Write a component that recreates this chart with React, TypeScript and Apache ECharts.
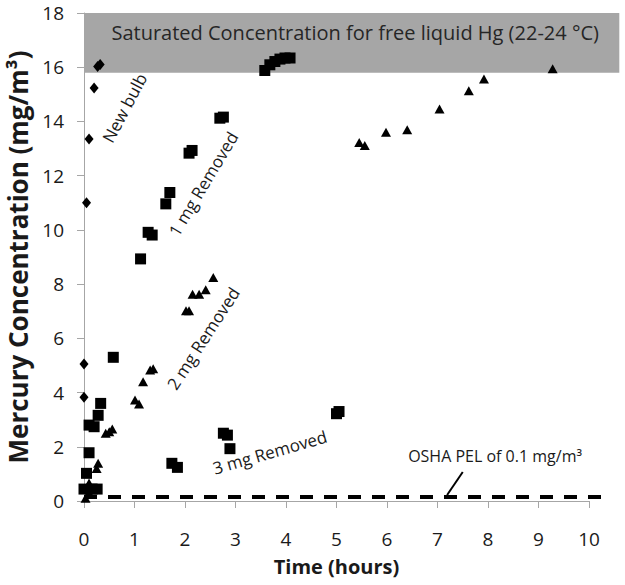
import React, { useEffect, useRef } from "react";
import * as echarts from "echarts";

// Time (hours), concentration (mg/m3)
const newBulb: [number, number][] = [
  [0, 3.83], [0, 5.05], [0.05, 11.0], [0.1, 13.35], [0.2, 15.23], [0.27, 16.03], [0.32, 16.1],
];
const oneMgRemoved: [number, number][] = [
  [0, 0.44], [0.05, 1.02], [0.1, 1.78], [0.1, 2.8], [0.2, 2.74], [0.28, 3.16], [0.33, 3.6],
  [0.58, 5.3], [1.12, 8.93], [1.27, 9.91], [1.35, 9.81], [1.62, 10.96], [1.7, 11.38],
  [2.08, 12.83], [2.14, 12.93], [2.69, 14.12], [2.76, 14.16], [3.58, 15.88], [3.68, 16.09],
  [3.78, 16.21], [3.88, 16.3], [3.98, 16.34], [4.08, 16.34],
];
const twoMgRemoved: [number, number][] = [
  [0.03, 0.1], [0.1, 0.3], [0.1, 0.66], [0.25, 1.2], [0.28, 1.39], [0.43, 2.5], [0.5, 2.55],
  [0.56, 2.66], [1.01, 3.73], [1.09, 3.58], [1.17, 4.4], [1.31, 4.83], [1.37, 4.88],
  [2.02, 7.02], [2.08, 7.02], [2.15, 7.63], [2.28, 7.63], [2.41, 7.79], [2.56, 8.24],
  [5.45, 13.22], [5.56, 13.11], [5.98, 13.6], [6.4, 13.69], [7.04, 14.46], [7.62, 15.13],
  [7.92, 15.57], [9.28, 15.94],
];
const threeMgRemoved: [number, number][] = [
  [0.16, 0.44], [0.26, 0.44], [1.74, 1.39], [1.85, 1.24], [2.76, 2.5], [2.84, 2.43],
  [2.89, 1.93], [5.0, 3.22], [5.05, 3.3],
];
const xTicks = [0, 1, 2, 3, 4, 5, 6, 7, 8, 9, 10];
const yTicks = [0, 2, 4, 6, 8, 10, 12, 14, 16, 18];
const saturatedBand = { from: 15.8, to: 18, xEnd: 10.6 };
const oshaPel = { y: 0.15, xEnd: 10.45 };

const FONT = "Open Sans";

export default function App() {
  const ref = useRef<HTMLDivElement>(null);
  useEffect(() => {
    if (!ref.current) return;
    document.body.style.margin = "0";
    const chart = echarts.init(ref.current, null, { renderer: "svg" });
    const axisLine = { show: true, lineStyle: { color: "#a6a6a6", width: 1 } };
    const mark = { color: "#000", opacity: 1 };
    chart.setOption({
      animation: false,
      grid: { left: 84, right: 36, top: 13, bottom: 84, containLabel: false, outerBoundsMode: "none" },
      xAxis: {
        type: "value",
        min: xTicks[0],
        max: xTicks[xTicks.length - 1],
        interval: 1,
        axisLine,
        axisTick: { show: true, length: 7, lineStyle: { color: "#a6a6a6" } },
        splitLine: { show: false },
        axisLabel: { color: "#1a1a1a", fontFamily: FONT, fontSize: 19, margin: 28 },
        name: "Time (hours)",
        nameLocation: "middle",
        nameGap: 55,
        nameTextStyle: { fontFamily: FONT, fontSize: 20, fontWeight: "bold", color: "#1a1a1a" },
      },
      yAxis: {
        type: "value",
        min: yTicks[0],
        max: yTicks[yTicks.length - 1],
        interval: 2,
        axisLine,
        axisTick: { show: true, length: 7, lineStyle: { color: "#a6a6a6" } },
        splitLine: { show: false },
        axisLabel: { color: "#1a1a1a", fontFamily: FONT, fontSize: 19, margin: 20 },
        name: "Mercury Concentration (mg/m³)",
        nameLocation: "middle",
        nameGap: 40,
        nameTextStyle: { fontFamily: FONT, fontSize: 26, fontWeight: "bold", color: "#1a1a1a" },
      },
      series: [
        { type: "scatter", name: "New bulb", data: newBulb, symbol: "diamond", symbolSize: [9, 11], itemStyle: mark, z: 3 },
        { type: "scatter", name: "1 mg Removed", data: oneMgRemoved, symbol: "rect", symbolSize: 11, itemStyle: mark, z: 3 },
        { type: "scatter", name: "2 mg Removed", data: twoMgRemoved, symbol: "triangle", symbolSize: [10, 9], itemStyle: mark, z: 3 },
        { type: "scatter", name: "3 mg Removed", data: threeMgRemoved, symbol: "rect", symbolSize: 11, itemStyle: mark, z: 3 },
      ],
    });

    const px = (x: number, y: number) => chart.convertToPixel({ gridIndex: 0 }, [x, y]) as number[];
    const deg = (d: number) => (d * Math.PI) / 180;
    const bandTL = px(0, saturatedBand.to);
    const bandBR = px(saturatedBand.xEnd, saturatedBand.from);
    const dashL = px(0, oshaPel.y);
    const dashR = px(oshaPel.xEnd, oshaPel.y);
    const textStyle = (size: number) => ({ fill: "#1a1a1a", fontFamily: FONT, fontSize: size, align: "center", verticalAlign: "middle" });
    const label = (text: string, x: number, y: number, angle: number, size = 17) => {
      const p = px(x, y);
      return { type: "text", x: p[0], y: p[1], rotation: deg(angle), z: 20, style: { text, ...textStyle(size) } };
    };
    const ptr1 = px(7.5, 1.07);
    const ptr2 = px(7.19, 0.22);
    const bandText = px(5.37, 17.27);

    chart.setOption({
      graphic: [
        {
          type: "rect", z: 0, silent: true,
          shape: { x: bandTL[0], y: bandTL[1], width: bandBR[0] - bandTL[0], height: bandBR[1] - bandTL[1] },
          style: { fill: "#a6a6a6" },
        },
        {
          type: "text", x: bandText[0], y: bandText[1], z: 1,
          style: { text: "Saturated Concentration for free liquid Hg (22-24 °C)", ...textStyle(20), fill: "#262626" },
        },
        {
          type: "line", z: 10,
          shape: { x1: dashL[0], y1: dashL[1], x2: dashR[0], y2: dashR[1] },
          style: { stroke: "#000", lineWidth: 4, lineDash: [13, 11] },
        },
        {
          type: "line", z: 10,
          shape: { x1: ptr1[0], y1: ptr1[1], x2: ptr2[0], y2: ptr2[1] },
          style: { stroke: "#000", lineWidth: 2 },
        },
        label("New bulb", 0.8, 14.5, 62),
        label("1 mg Removed", 2.36, 11.7, 59),
        label("2 mg Removed", 2.36, 6.0, 57),
        label("3 mg Removed", 3.68, 1.8, 16),
        label("OSHA PEL of 0.1 mg/m³", 8.14, 1.66, 0, 16),
      ],
    });
    return () => chart.dispose();
  }, []);
  return <div ref={ref} style={{ width: 625, height: 585 }} />;
}
